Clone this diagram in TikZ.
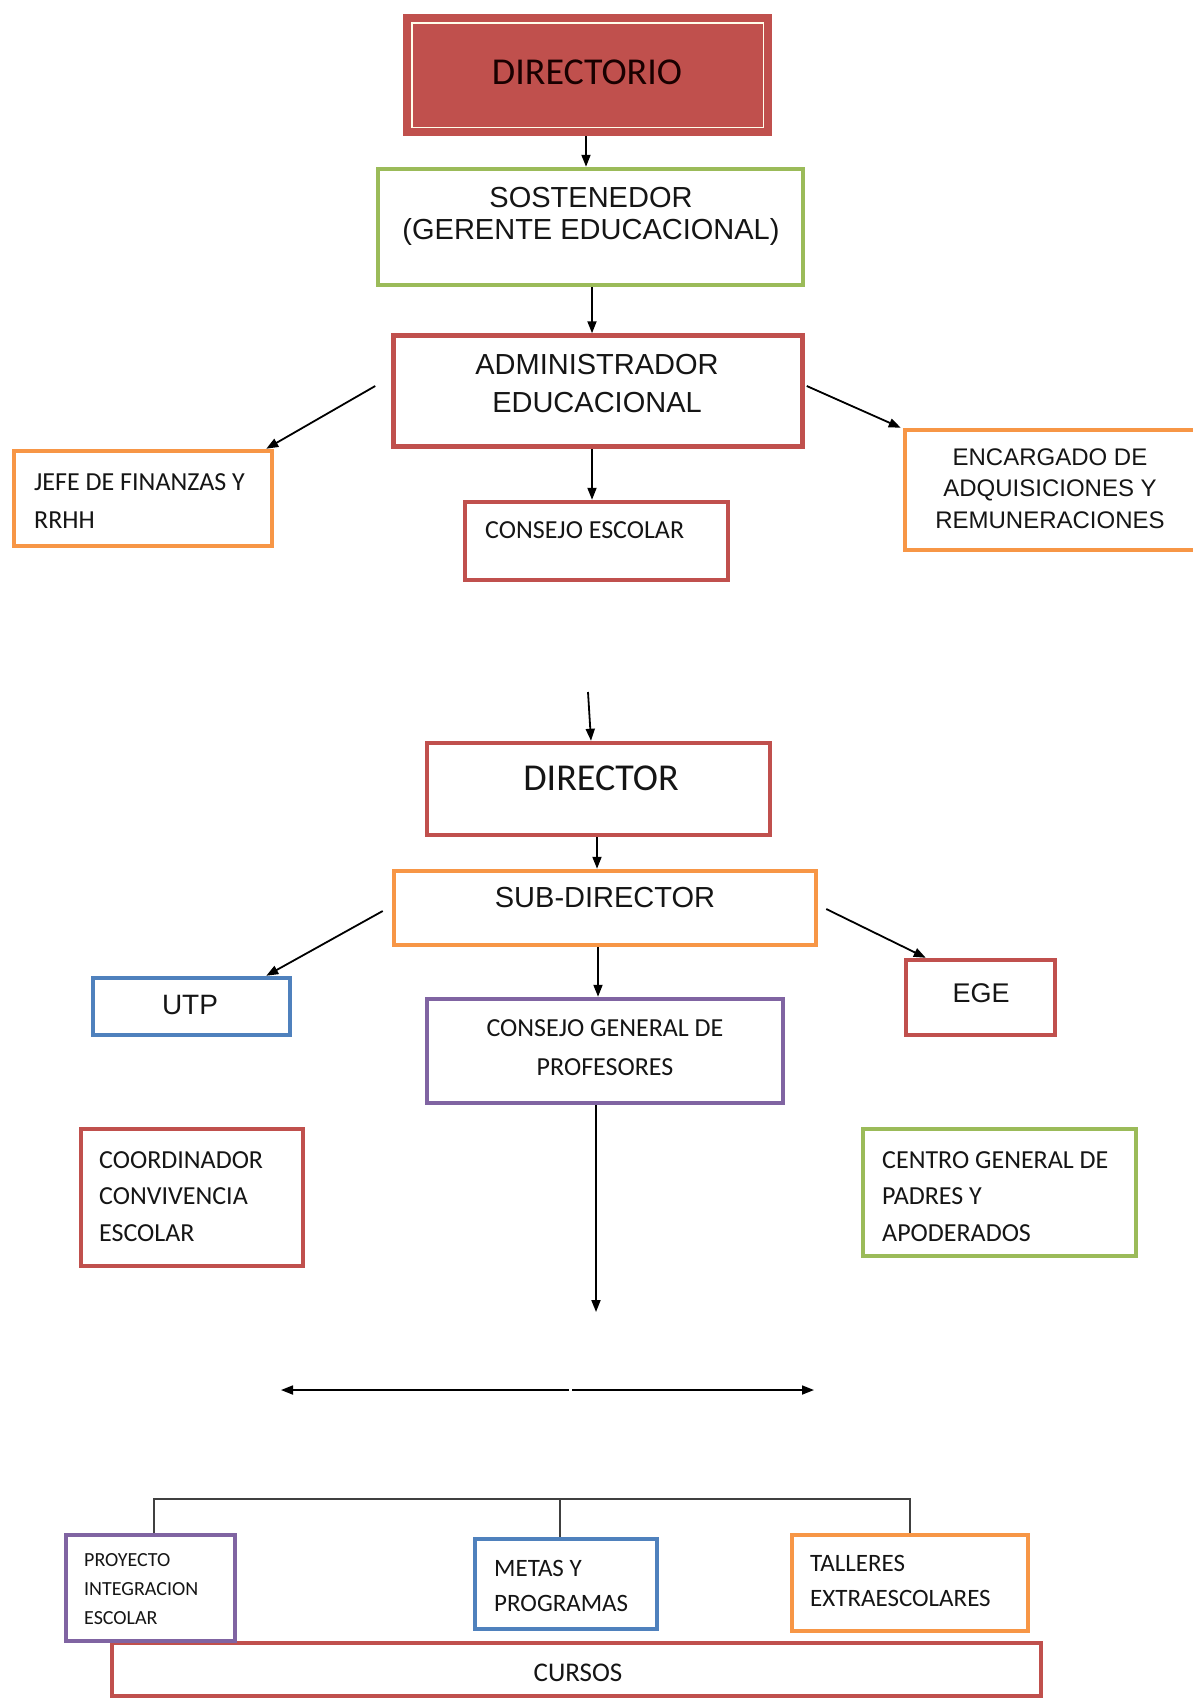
\documentclass[tikz,border=0pt]{standalone}
\usepackage{fontspec}
\newfontfamily\calfont{Carlito}
\newfontfamily\arifont{Liberation Sans}
\usetikzlibrary{arrows.meta,calc}
\definecolor{cred}{HTML}{C0504D}
\definecolor{cgreen}{HTML}{9BBB59}
\definecolor{corange}{HTML}{F79646}
\definecolor{cblue}{HTML}{4F81BD}
\definecolor{cpurple}{HTML}{8064A2}
\definecolor{ctext}{HTML}{151515}
\newcommand\myfs[2]{\fontsize{#1}{#2}\selectfont}
\tikzset{
  bx/.style={draw=#1, line width=4.5pt, fill=white, inner sep=0pt},
  arr/.style={-{Triangle[length=12pt,width=9pt]}, line width=1.8pt, black},
  brk/.style={line width=1.8pt, black!75},
  txt/.style={inner sep=0pt, text=ctext},
}
\begin{document}
\begin{tikzpicture}[x=1pt,y=-1pt]
\fill[white] (0,0) rectangle (1192,1700);
\useasboundingbox (0,0) rectangle (1192,1700);

% top part
\node[bx=cred, fill=cred, minimum width=365pt, minimum height=118pt] (dir) at (587.5,75) {};
\draw[white!92!yellow, line width=1.5pt] ($(dir.north west)+(9,9)$) rectangle ($(dir.south east)+(-9,-9)$);
\node[txt, text=black!90!red, font=\calfont\myfs{38}{44}] (dirt) at (587,72) {DIRECTORIO};

\node[bx=cgreen, minimum width=425pt, minimum height=116pt] (sost) at (590.5,227) {};
\node[txt, font=\arifont\myfs{29}{32}, align=center] (sostt) at (591,216) {SOSTENEDOR\\(GERENTE EDUCACIONAL)};

\node[bx=cred, minimum width=409pt, minimum height=111pt] (admin) at (598,391) {};
\node[txt, font=\arifont\myfs{29}{38}, align=center] (admint) at (597,384) {ADMINISTRADOR\\EDUCACIONAL};

\node[bx=corange, minimum width=258pt, minimum height=95pt] (jefe) at (143,498.5) {};
\node[txt, font=\calfont\myfs{26}{38}, align=left, anchor=west] (jefet) at (34,501) {JEFE DE FINANZAS Y\\RRHH};

\node[bx=cred, minimum width=263pt, minimum height=78pt] (consejo) at (596.5,541) {};
\node[txt, font=\calfont\myfs{26}{32}, anchor=west] (consejot) at (485,530) {CONSEJO ESCOLAR};

\node[bx=corange, minimum width=290pt, minimum height=120pt] (enc) at (1050,490) {};
\node[txt, font=\arifont\myfs{24}{31.5}, align=center] (enct) at (1050,488.5) {ENCARGADO DE\\ADQUISICIONES Y\\REMUNERACIONES};

% middle part
\node[bx=cred, minimum width=343pt, minimum height=92pt] (director) at (598.5,789) {};
\node[txt, font=\calfont\myfs{38}{44}] (directort) at (601,778) {DIRECTOR};

\node[bx=corange, minimum width=422pt, minimum height=74pt] (sub) at (605,908) {};
\node[txt, font=\arifont\myfs{29}{34}] (subt) at (605,898) {SUB-DIRECTOR};

\node[bx=cblue, minimum width=197pt, minimum height=57pt] (utp) at (191.5,1006.5) {};
\node[txt, font=\arifont\myfs{28}{34}] (utpt) at (190,1005) {UTP};

\node[bx=cpurple, minimum width=356pt, minimum height=104pt] (cgp) at (605,1051) {};
\node[txt, font=\calfont\myfs{26}{39}, align=center] (cgpt) at (605,1047.5) {CONSEJO GENERAL DE\\PROFESORES};

\node[bx=cred, minimum width=149pt, minimum height=75pt] (ege) at (980.5,997.5) {};
\node[txt, font=\arifont\myfs{27}{32}] (eget) at (981,993) {EGE};

\node[bx=cred, minimum width=222pt, minimum height=137pt] (coord) at (192,1197.5) {};
\node[txt, font=\calfont\myfs{26}{36.5}, align=left, anchor=west] (coordt) at (99,1196.5) {COORDINADOR\\CONVIVENCIA\\ESCOLAR};

\node[bx=cgreen, minimum width=273pt, minimum height=127pt] (centro) at (999.5,1192.5) {};
\node[txt, font=\calfont\myfs{26}{36.5}, align=left, anchor=west] (centrot) at (882,1196.5) {CENTRO GENERAL DE\\PADRES Y\\APODERADOS};

% bottom part
\node[bx=cred, minimum width=929pt, minimum height=53pt] (cursos) at (576.5,1669.5) {};
\node[txt, font=\calfont\myfs{27}{32}] (cursost) at (578,1673) {CURSOS};

\node[bx=cpurple, minimum width=169pt, minimum height=106pt] (proyecto) at (150.5,1588) {};
\node[txt, font=\calfont\myfs{20}{29}, align=left, anchor=west] (proyectot) at (84,1589) {PROYECTO\\INTEGRACION\\ESCOLAR};

\node[bx=cblue, minimum width=182pt, minimum height=90pt] (metas) at (566,1584) {};
\node[txt, font=\calfont\myfs{25}{35}, align=left, anchor=west] (metast) at (494,1585.5) {METAS Y\\PROGRAMAS};

\node[bx=corange, minimum width=236pt, minimum height=96pt] (talleres) at (910,1583) {};
\node[txt, font=\calfont\myfs{25}{35}, align=left, anchor=west] (tallerest) at (810,1580.5) {TALLERES\\EXTRAESCOLARES};

% connectors
\draw[arr] ([xshift=-1.5pt]dir.south) -- ([xshift=-4.5pt]sost.north);
\draw[arr] ([xshift=1.5pt]sost.south) -- ([xshift=-6pt]admin.north);
\draw[arr] ($(admin.west)+(-16,-5)$) -- ($(jefe.north east)+(-8,0)$);
\draw[arr] ([xshift=-6pt]admin.south) -- ([xshift=-4.5pt]consejo.north);
\draw[arr] ($(admin.east)+(2,-5)$) -- ($(enc.north west)+(-2,0)$);

\coordinate (dirin) at (588,692);
\draw[arr] (dirin) -- ([xshift=-7.5pt]director.north);
\draw[arr] ([xshift=-1.5pt]director.south) -- ([xshift=-8pt]sub.north);
\draw[arr] ($(sub.west)+(-9,3)$) -- ($(utp.north east)+(-26,0)$);
\draw[arr] ([xshift=-7pt]sub.south) -- ([xshift=-7pt]cgp.north);
\draw[arr] ($(sub.east)+(8,1)$) -- ($(ege.north west)+(22,0)$);

\coordinate (cgpend) at (596,1312);
\draw[arr] ([xshift=-9pt]cgp.south) -- (cgpend);

\coordinate (hl) at (281,1390);
\coordinate (hml) at (569,1390);
\coordinate (hmr) at (572,1390);
\coordinate (hr) at (814,1390);
\draw[arr] (hml) -- (hl);
\draw[arr] (hmr) -- (hr);

\draw[brk] ([xshift=3.5pt]proyecto.north) -- ++(0,-34) -| (talleres.north);
\draw[brk] ([xshift=-6pt]metas.north) -- ++(0,-38);
\end{tikzpicture}
\end{document}
